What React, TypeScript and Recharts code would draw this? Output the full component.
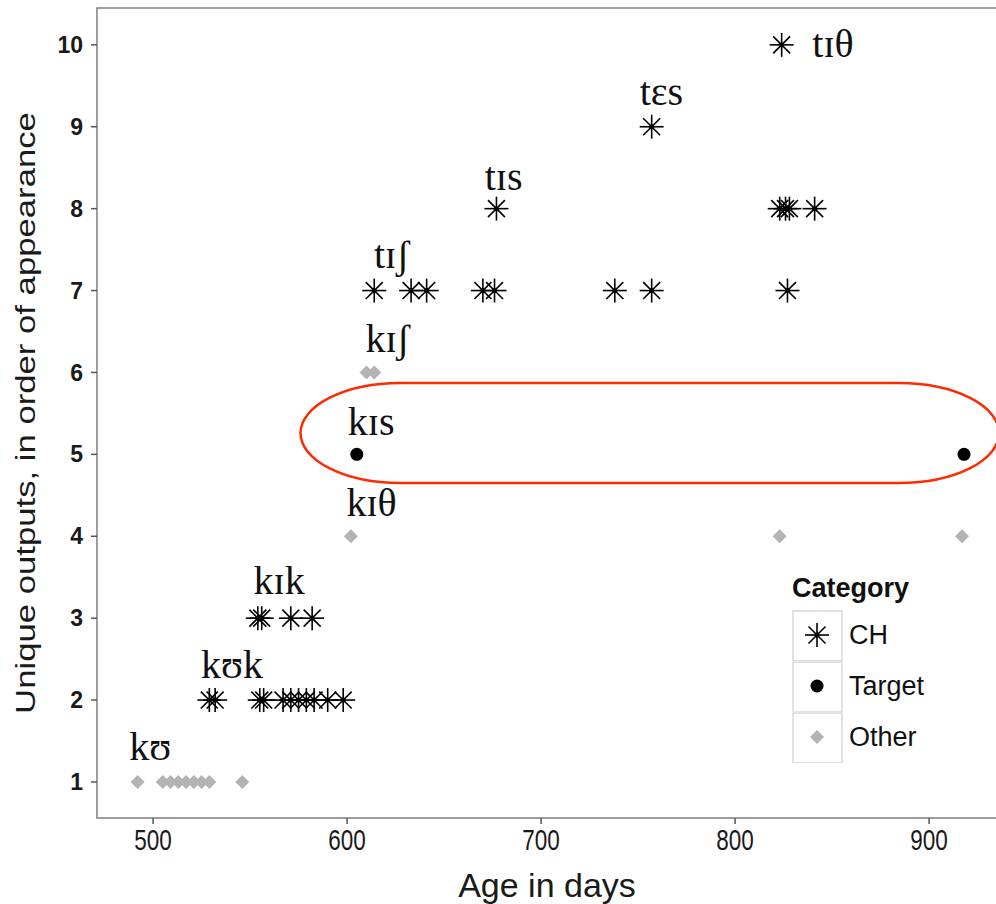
import { ScatterChart, Scatter, XAxis, YAxis, ReferenceArea, Legend } from "recharts";

const X_TICKS = [500, 600, 700, 800, 900];
const Y_TICKS = [1, 2, 3, 4, 5, 6, 7, 8, 9, 10];
const X_DOMAIN = [471.1, 935];
const Y_DOMAIN = [0.56, 10.45];

// CH outputs (asterisks)
const CH_AGE = [529, 532, 555, 557, 567, 571, 575, 579, 583, 590, 598, 554, 556, 571, 582, 614, 633, 641, 670, 676, 738, 757, 827, 677, 823, 826, 828, 841, 757, 824];
const CH_RANK = [2, 2, 2, 2, 2, 2, 2, 2, 2, 2, 2, 3, 3, 3, 3, 7, 7, 7, 7, 7, 7, 7, 7, 8, 8, 8, 8, 8, 9, 10];

// Target outputs
const TARGET_AGE = [605, 918];
const TARGET_RANK = [5, 5];

// Other outputs
const OTHER_AGE = [492, 505, 509, 513, 517, 521, 525, 529, 546, 602, 823, 917, 610, 614];
const OTHER_RANK = [1, 1, 1, 1, 1, 1, 1, 1, 1, 4, 4, 4, 6, 6];

// word labels
const LABEL_TEXT = ["kʊ", "kʊk", "kɪk", "kɪθ", "kɪs", "kɪʃ", "tɪʃ", "tɪs", "tɛs", "tɪθ"];
const LABEL_AGE = [498.5, 540.7, 565, 612.6, 612.4, 620.9, 623, 680.7, 762, 850.5];
const LABEL_RANK = [1.27, 2.27, 3.3, 4.25, 5.24, 6.25, 7.28, 8.23, 9.27, 9.85];

// highlighted region
const HIGHLIGHT_AGE = [576, 936];
const HIGHLIGHT_RANK = [4.65, 5.87];

const CATEGORIES = ["CH", "Target", "Other"];

const chData = CH_AGE.map((a, i) => ({ age: a, rank: CH_RANK[i] }));
const targetData = TARGET_AGE.map((a, i) => ({ age: a, rank: TARGET_RANK[i] }));
const otherData = OTHER_AGE.map((a, i) => ({ age: a, rank: OTHER_RANK[i] }));
const labelData = LABEL_TEXT.map((t, i) => ({ age: LABEL_AGE[i], rank: LABEL_RANK[i], text: t }));

const SANS = "'Liberation Sans', Arial, sans-serif";
const SERIF = "'Liberation Serif', 'DejaVu Serif', serif";

function Asterisk({ cx, cy }: any) {
  const r = 12;
  const d = r * Math.SQRT1_2;
  return (
    <g stroke="#000" strokeWidth={1.6}>
      <line x1={cx - r} y1={cy} x2={cx + r} y2={cy} />
      <line x1={cx} y1={cy - r} x2={cx} y2={cy + r} />
      <line x1={cx - d} y1={cy - d} x2={cx + d} y2={cy + d} />
      <line x1={cx - d} y1={cy + d} x2={cx + d} y2={cy - d} />
      <circle cx={cx} cy={cy} r={2.5} fill="#000" stroke="none" />
    </g>
  );
}

function Dot({ cx, cy }: any) {
  return <circle cx={cx} cy={cy} r={6.5} fill="#000" />;
}

function Diamond({ cx, cy }: any) {
  const r = 7;
  return <polygon points={`${cx},${cy - r} ${cx + r},${cy} ${cx},${cy + r} ${cx - r},${cy}`} fill="#b3b3b3" />;
}

function WordLabel({ cx, cy, payload }: any) {
  return (
    <text x={cx} y={cy} textAnchor="middle" fontFamily={SERIF} fontSize={40} fill="#111">
      {payload.text}
    </text>
  );
}

function XTick({ x, y, payload }: any) {
  return (
    <g transform={`translate(${x},${y})`}>
      <text x={0} y={24} textAnchor="middle" fontFamily={SANS} fontSize={30} fill="#1a1a1a" transform="scale(0.75,1)">
        {payload.value}
      </text>
    </g>
  );
}

function YTick({ x, y, payload }: any) {
  return (
    <text x={x} y={y} dy="0.35em" textAnchor="end" fontFamily={SANS} fontWeight="bold" fontSize={23} fill="#1a1a1a">
      {payload.value}
    </text>
  );
}

function Highlight({ x, y, width, height }: any) {
  return <rect x={x} y={y} width={width} height={height} rx={100} ry={height / 2} fill="none" stroke="#ff2a00" strokeWidth={2.5} />;
}

function LegendIcon({ name }: { name: string }) {
  if (name === "CH") return <Asterisk cx={25} cy={25} />;
  if (name === "Target") return <Dot cx={25} cy={25} />;
  return <Diamond cx={25} cy={25} />;
}

function CategoryLegend() {
  return (
    <div style={{ fontFamily: SANS, color: "#111" }}>
      <div style={{ fontWeight: "bold", fontSize: 27, height: 37, lineHeight: "30px" }}>Category</div>
      {CATEGORIES.map((c) => (
        <div key={c} style={{ display: "flex", alignItems: "center", height: 51 }}>
          <svg width={51} height={51} style={{ display: "block" }}>
            <rect x={1} y={1} width={49} height={50} fill="#fff" stroke="#d9d9d9" strokeWidth={1.5} />
            <LegendIcon name={c} />
          </svg>
          <span style={{ marginLeft: 6, fontSize: 27 }}>{c}</span>
        </div>
      ))}
    </div>
  );
}

export default function App() {
  return (
    <div style={{ position: "absolute", left: 0, top: 0, width: 996, height: 904, overflow: "hidden", background: "#fff" }}>
      <ScatterChart width={1000} height={904} margin={{ top: 8, right: 3, left: 0, bottom: 0 }}>
        <XAxis
          type="number"
          dataKey="age"
          domain={X_DOMAIN}
          ticks={X_TICKS}
          allowDataOverflow
          height={86}
          axisLine={false}
          tickSize={6}
          tickLine={{ stroke: "#555", strokeWidth: 1.5 }}
          tick={<XTick />}
          label={({ viewBox }: any) => (
            <text x={viewBox.x + viewBox.width / 2} y={897} textAnchor="middle" fontFamily={SANS} fontSize={34} fill="#1a1a1a">
              Age in days
            </text>
          )}
        />
        <YAxis
          type="number"
          dataKey="rank"
          domain={Y_DOMAIN}
          ticks={Y_TICKS}
          allowDataOverflow
          width={97}
          axisLine={false}
          tickSize={6}
          tickMargin={8}
          tickLine={{ stroke: "#555", strokeWidth: 1.5 }}
          tick={<YTick />}
          label={({ viewBox }: any) => (
            <text
              transform={`translate(35,${viewBox.y + viewBox.height / 2}) rotate(-90) scale(1.24,1)`}
              textAnchor="middle"
              fontFamily={SANS}
              fontSize={28}
              fill="#1a1a1a"
            >
              Unique outputs, in order of appearance
            </text>
          )}
        />
        <ReferenceArea
          x1={X_DOMAIN[0]}
          x2={X_DOMAIN[1]}
          y1={Y_DOMAIN[0]}
          y2={Y_DOMAIN[1]}
          fill="none"
          fillOpacity={0}
          stroke="#7f7f7f"
          strokeWidth={1.5}
          ifOverflow="visible"
        />
        <Scatter name="Other" data={otherData} shape={<Diamond />} isAnimationActive={false} />
        <Scatter name="Target" data={targetData} shape={<Dot />} isAnimationActive={false} />
        <Scatter name="CH" data={chData} shape={<Asterisk />} isAnimationActive={false} />
        <Scatter name="labels" data={labelData} shape={<WordLabel />} legendType="none" isAnimationActive={false} />
        <ReferenceArea
          x1={HIGHLIGHT_AGE[0]}
          x2={HIGHLIGHT_AGE[1]}
          y1={HIGHLIGHT_RANK[0]}
          y2={HIGHLIGHT_RANK[1]}
          ifOverflow="visible"
          shape={<Highlight />}
        />
        <Legend
          layout="vertical"
          align="center"
          verticalAlign="middle"
          wrapperStyle={{ left: 792, top: 573, width: 200 }}
          content={<CategoryLegend />}
        />
      </ScatterChart>
    </div>
  );
}
